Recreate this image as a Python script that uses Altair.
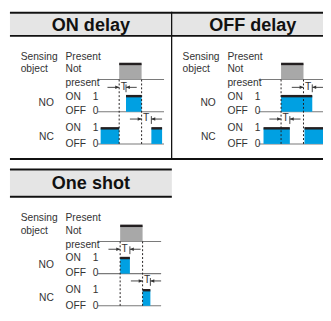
import altair as alt
import pandas as pd

# ---------------- content ----------------
panel_titles = ["ON delay", "OFF delay", "One shot"]
row_labels_left = ["Sensing", "object"]
row_labels_mid = ["Present", "Not", "present", "ON", "1", "OFF", "0", "ON", "1", "OFF", "0"]
row_labels_right = ["NO", "NC"]

# timing values (x, in units of the ON-delay panel) for each panel
obj_rise = [122, 122, 123]
obj_fall = [145, 145, 146]
no_on_start = [129, 122, 123]
no_on_end = [145, 154, 133]
nc_panel = [0, 0, 1, 1, 2]
nc_on_start = [103, 155, 104, 146, 146]
nc_on_end = [122, 166, 131, 165, 154]
trace_start = [100, 99, 100]
trace_end = [168, 165, 165]
t_no_from = [122, 145, 123]
t_no_to = [129, 154, 133]
t_nc_from = [145, 122, 146]
t_nc_to = [155, 131, 154]

# ---------------- layout ----------------
panel_dx = [0, 166, 0]
panel_dy = [0, 0, 166]
SENS_LO, SENS_HI = 77.5, 61.5
NO_LO, NO_HI = 110.5, 94.5
NC_LO, NC_HI = 143.5, 127.5
T_NO_Y, T_NC_Y = 85.5, 118.0

left_x = [21, 21]
left_y = [54, 67]
mid_x = [67, 67, 67, 67, 95, 67, 95, 67, 95, 67, 95]
mid_y = [54, 67, 81, 95, 95, 110, 110, 127, 127, 144, 144]
right_x = [55, 55]
right_y = [102, 136]

hdr_cx = [93, 259, 93]
hdr_base = [27.3, 27.3, 189.3]

W, H = 323, 305
XS = alt.Scale(domain=[8, 8 + W], nice=False, zero=False)
YS = alt.Scale(domain=[8, 8 + H], nice=False, zero=False, reverse=True)

BLUE = "#00a0e2"
GRAY = "#a8a8a8"
DARK = "#231f20"
LINE = "#7a7a7a"
TXT = "#333333"
FONT = "Liberation Sans"
FS = 10.5


def ex():
    return alt.X("x:Q", scale=XS, axis=None)


def ey():
    return alt.Y("y:Q", scale=YS, axis=None)


# ---------------- build tables ----------------
boxes, edges, bases, dashes, shafts, heads_r, heads_l, ticks, tees = [], [], [], [], [], [], [], [], []
labels_l, labels_r = [], []
for p in range(3):
    dx, dy = panel_dx[p], panel_dy[p]
    boxes.append(dict(x=obj_rise[p] + dx, x2=obj_fall[p] + dx, y=SENS_HI + dy, y2=SENS_LO + dy, k="obj"))
    boxes.append(dict(x=no_on_start[p] + dx, x2=no_on_end[p] + dx, y=NO_HI + dy, y2=NO_LO + dy, k="out"))
    for lo in (SENS_LO, NO_LO, NC_LO):
        bases.append(dict(x=trace_start[p] + dx, x2=trace_end[p] + dx, y=lo + dy))
    for xv in (obj_rise[p], obj_fall[p]):
        dashes.append(dict(x=xv + dx, y=SENS_LO + dy, y2=NC_LO + dy))
    for a, b, ty in ((t_no_from[p], t_no_to[p], T_NO_Y), (t_nc_from[p], t_nc_to[p], T_NC_Y)):
        shafts.append(dict(x=a + dx - 12, x2=a + dx, y=ty + dy))
        shafts.append(dict(x=b + dx, x2=b + dx + 11, y=ty + dy))
        heads_r.append(dict(x=a + dx, y=ty + dy))
        heads_l.append(dict(x=b + dx, y=ty + dy))
        ticks.append(dict(x=b + dx, y=ty + dy - 3, y2=ty + dy + 5))
        tees.append(dict(x=a + dx + 1.5, y=ty + dy - 0.5, t="T"))
    for t, xv, yv in zip(row_labels_left, left_x, left_y):
        labels_l.append(dict(x=xv + dx, y=yv + dy, t=t))
    for t, xv, yv in zip(row_labels_mid, mid_x, mid_y):
        labels_l.append(dict(x=xv + dx, y=yv + dy, t=t))
    for t, xv, yv in zip(row_labels_right, right_x, right_y):
        labels_r.append(dict(x=xv + dx, y=yv + dy, t=t))
for p, s, e in zip(nc_panel, nc_on_start, nc_on_end):
    dx, dy = panel_dx[p], panel_dy[p]
    boxes.append(dict(x=s + dx, x2=e + dx, y=NC_HI + dy, y2=NC_LO + dy, k="out"))
for b in boxes:
    edges.append(dict(x=b["x"], x2=b["x2"], y=b["y"]))

hdr_boxes = pd.DataFrame(dict(x=[10, 10], x2=[331, 176], y=[10, 170.7], y2=[31.7, 196.7]))
hdr_lines = pd.DataFrame(dict(x=[10, 10, 10, 10, 10], x2=[331, 331, 331, 176, 176], y=[9, 32.7, 159, 169.7, 197.7]))
divider = pd.DataFrame(dict(x=[175.8], y=[8], y2=[160]))
titles = pd.DataFrame(dict(x=hdr_cx, y=hdr_base, t=panel_titles))

D = pd.DataFrame

layers = [
    alt.Chart(hdr_boxes).mark_rect(color="#e5e5e5").encode(ex(), alt.X2("x2:Q"), ey(), alt.Y2("y2:Q")),
    alt.Chart(hdr_lines).mark_rule(color="#111111", strokeWidth=2).encode(ex(), alt.X2("x2:Q"), ey()),
    alt.Chart(divider).mark_rule(color="#111111", strokeWidth=1.3).encode(ex(), ey(), alt.Y2("y2:Q")),
    alt.Chart(titles).mark_text(align="center", baseline="alphabetic", font="Liberation Sans", fontWeight="bold",
                                fontSize=18.5, color="#111111").encode(ex(), ey(), text="t:N"),
    alt.Chart(D(bases)).mark_rule(color=LINE, strokeWidth=1.1).encode(ex(), alt.X2("x2:Q"), ey()),
    alt.Chart(D(boxes)).mark_rect().encode(
        ex(), alt.X2("x2:Q"), ey(), alt.Y2("y2:Q"),
        color=alt.Color("k:N", scale=alt.Scale(domain=["obj", "out"], range=[GRAY, BLUE]), legend=None)),
    alt.Chart(D(edges)).mark_rule(color=DARK, strokeWidth=2.5).encode(ex(), alt.X2("x2:Q"), ey()),
    alt.Chart(D(dashes)).mark_rule(color=DARK, strokeWidth=1, strokeDash=[2, 2]).encode(ex(), ey(), alt.Y2("y2:Q")),
    alt.Chart(D(shafts)).mark_rule(color="#444444", strokeWidth=1).encode(ex(), alt.X2("x2:Q"), ey()),
    alt.Chart(D(ticks)).mark_rule(color="#444444", strokeWidth=1).encode(ex(), ey(), alt.Y2("y2:Q")),
    alt.Chart(D(heads_r)).mark_point(shape="M0,0L-1,-0.45L-1,0.45Z", filled=True, size=64, color="#333333",
                                     opacity=1).encode(ex(), ey()),
    alt.Chart(D(heads_l)).mark_point(shape="M0,0L1,-0.45L1,0.45Z", filled=True, size=64, color="#333333",
                                     opacity=1).encode(ex(), ey()),
    alt.Chart(D(tees)).mark_text(align="left", baseline="middle", font=FONT, fontSize=FS, color=TXT)
    .encode(ex(), ey(), text="t:N"),
    alt.Chart(D(labels_l)).mark_text(align="left", baseline="middle", font=FONT, fontSize=FS, color=TXT)
    .encode(ex(), ey(), text="t:N"),
    alt.Chart(D(labels_r)).mark_text(align="right", baseline="middle", font=FONT, fontSize=FS, color=TXT)
    .encode(ex(), ey(), text="t:N"),
]

chart = alt.layer(*layers).properties(
    width=W, height=H, padding=0, autosize=alt.AutoSizeParams(type="none")
).configure_view(stroke=None)

chart.save("out.html", embed_options={"renderer": "svg", "actions": False})
